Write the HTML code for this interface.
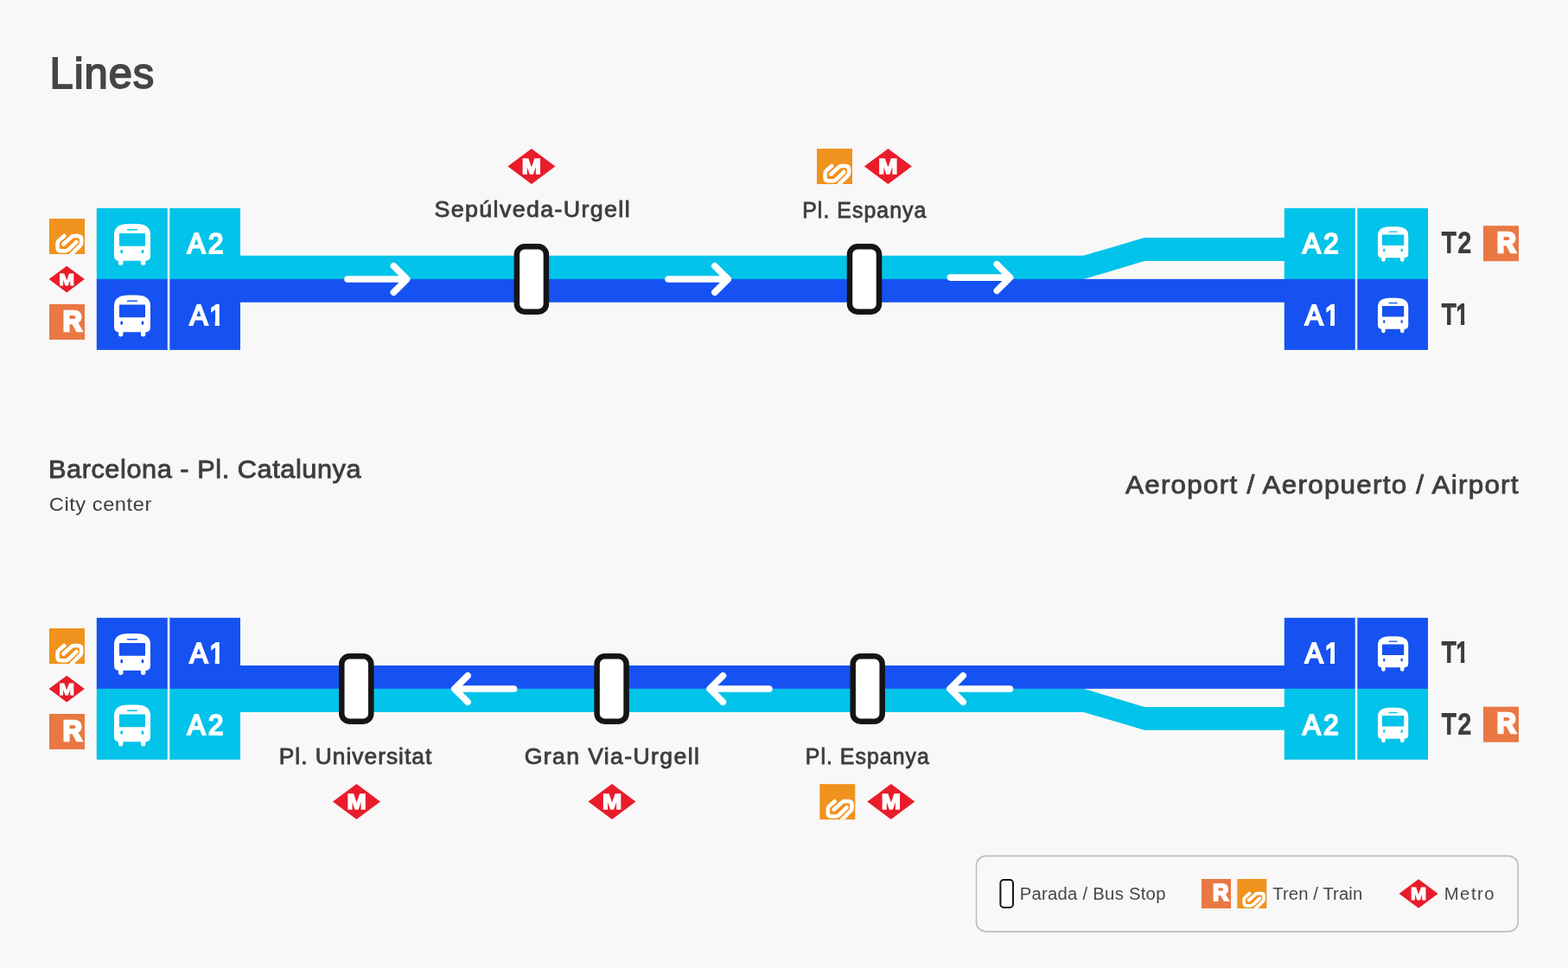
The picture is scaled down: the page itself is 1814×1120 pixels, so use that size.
<!DOCTYPE html>
<html lang="ca"><head><meta charset="utf-8"><title>Lines</title>
<style>html,body{margin:0;padding:0;background:#f8f8f8}body{width:1814px;height:1120px;overflow:hidden;position:relative;font-family:"Liberation Sans", sans-serif}svg{display:block;position:absolute;left:0;top:0;will-change:transform}text{font-family:"Liberation Sans", sans-serif}</style>
</head><body>
<svg width="1814" height="1120" viewBox="0 0 1814 1120">
<rect width="1814" height="1120" fill="#f8f8f8"/>
<text transform="translate(57.5 102.2) scale(0.98 1)" font-size="49.85" letter-spacing="1.002" fill="#454545" stroke="#454545" stroke-width="1.8" stroke-linejoin="miter" paint-order="stroke">Lines</text>
<polygon fill="#02c3e9" points="278,295.8 1253.5,295.8 1324,275 1487,275 1487,301.9 1324,301.9 1253.5,323.1 278,323.1"/>
<rect fill="#1652f2" x="278" y="322.9" width="1209" height="26.9"/>
<rect x="111.8" y="240.8" width="166.2" height="82.3" fill="#02c3e9"/>
<rect x="111.8" y="322.9" width="166.2" height="82" fill="#1652f2"/>
<rect x="1485.8" y="240.8" width="166.2" height="82.3" fill="#02c3e9"/>
<rect x="1485.8" y="322.9" width="166.2" height="82" fill="#1652f2"/>
<rect x="193.8" y="240.8" width="2.5" height="164.1" fill="#fff"/>
<rect x="1567.8" y="240.8" width="2.5" height="164.1" fill="#fff"/>
<g transform="translate(153 282.9) scale(1) translate(-21 -24)">
<path fill="#fff" d="M0 12.5C0 4.2 5.5 0 16.5 0H25.5C36.5 0 42 4.2 42 12.5V37Q42 42.8 36.2 42.8H5.8Q0 42.8 0 37Z"/>
<rect fill="#fff" x="5" y="38" width="5.4" height="10" rx="2.6"/>
<rect fill="#fff" x="31" y="38" width="5.4" height="10" rx="2.6"/>
<rect fill="#02c3e9" x="6" y="11" width="30" height="14.8" rx="0.6"/>
<rect fill="#02c3e9" x="14.8" y="6" width="12.4" height="1.7" rx="0.8"/>
<rect fill="#02c3e9" x="7.4" y="30.2" width="2.6" height="4.2" rx="1"/>
<rect fill="#02c3e9" x="31.7" y="30.2" width="2.6" height="4.2" rx="1"/>
</g>
<g transform="translate(153 365.4) scale(1) translate(-21 -24)">
<path fill="#fff" d="M0 12.5C0 4.2 5.5 0 16.5 0H25.5C36.5 0 42 4.2 42 12.5V37Q42 42.8 36.2 42.8H5.8Q0 42.8 0 37Z"/>
<rect fill="#fff" x="5" y="38" width="5.4" height="10" rx="2.6"/>
<rect fill="#fff" x="31" y="38" width="5.4" height="10" rx="2.6"/>
<rect fill="#1652f2" x="6" y="11" width="30" height="14.8" rx="0.6"/>
<rect fill="#1652f2" x="14.8" y="6" width="12.4" height="1.7" rx="0.8"/>
<rect fill="#1652f2" x="7.4" y="30.2" width="2.6" height="4.2" rx="1"/>
<rect fill="#1652f2" x="31.7" y="30.2" width="2.6" height="4.2" rx="1"/>
</g>
<g transform="translate(1611.6 282.5) scale(0.84) translate(-21 -24)">
<path fill="#fff" d="M0 12.5C0 4.2 5.5 0 16.5 0H25.5C36.5 0 42 4.2 42 12.5V37Q42 42.8 36.2 42.8H5.8Q0 42.8 0 37Z"/>
<rect fill="#fff" x="5" y="38" width="5.4" height="10" rx="2.6"/>
<rect fill="#fff" x="31" y="38" width="5.4" height="10" rx="2.6"/>
<rect fill="#02c3e9" x="6" y="11" width="30" height="14.8" rx="0.6"/>
<rect fill="#02c3e9" x="14.8" y="6" width="12.4" height="1.7" rx="0.8"/>
<rect fill="#02c3e9" x="7.4" y="30.2" width="2.6" height="4.2" rx="1"/>
<rect fill="#02c3e9" x="31.7" y="30.2" width="2.6" height="4.2" rx="1"/>
</g>
<g transform="translate(1611.6 365) scale(0.84) translate(-21 -24)">
<path fill="#fff" d="M0 12.5C0 4.2 5.5 0 16.5 0H25.5C36.5 0 42 4.2 42 12.5V37Q42 42.8 36.2 42.8H5.8Q0 42.8 0 37Z"/>
<rect fill="#fff" x="5" y="38" width="5.4" height="10" rx="2.6"/>
<rect fill="#fff" x="31" y="38" width="5.4" height="10" rx="2.6"/>
<rect fill="#1652f2" x="6" y="11" width="30" height="14.8" rx="0.6"/>
<rect fill="#1652f2" x="14.8" y="6" width="12.4" height="1.7" rx="0.8"/>
<rect fill="#1652f2" x="7.4" y="30.2" width="2.6" height="4.2" rx="1"/>
<rect fill="#1652f2" x="31.7" y="30.2" width="2.6" height="4.2" rx="1"/>
</g>
<text transform="translate(216.8 292.9) scale(0.93 1)" font-size="33.6" letter-spacing="3.6" fill="#fff" stroke="#fff" stroke-width="2.2" stroke-linejoin="miter" paint-order="stroke">A2</text>
<clipPath id="c1"><path d="M-6 -33.6H36.87V10.08H31.41V-5.38H25.32V10.08H-6Z"/></clipPath>
<text transform="translate(219.6 375.5) scale(0.93 1)" font-size="33.6" letter-spacing="1.9" fill="#fff" stroke="#fff" stroke-width="2.2" stroke-linejoin="miter" paint-order="stroke" clip-path="url(#c1)">A1</text>
<text transform="translate(1507 292.9) scale(0.93 1)" font-size="33.6" letter-spacing="3.6" fill="#fff" stroke="#fff" stroke-width="2.2" stroke-linejoin="miter" paint-order="stroke">A2</text>
<clipPath id="c2"><path d="M-6 -33.6H36.87V10.08H31.41V-5.38H25.32V10.08H-6Z"/></clipPath>
<text transform="translate(1509.8 375.5) scale(0.93 1)" font-size="33.6" letter-spacing="1.9" fill="#fff" stroke="#fff" stroke-width="2.2" stroke-linejoin="miter" paint-order="stroke" clip-path="url(#c2)">A1</text>
<text transform="translate(1667.9 292.3) scale(0.83 1)" font-size="32.6" letter-spacing="2.8" fill="#3d3d3d" stroke="#3d3d3d" stroke-width="2.2" stroke-linejoin="miter" paint-order="stroke">T2</text>
<clipPath id="c3"><path d="M-6 -32.6H31.94V9.78H26.57V-5.22H20.7V9.78H-6Z"/></clipPath>
<text transform="translate(1667.9 374.7) scale(0.83 1)" font-size="32.6" letter-spacing="-0.2" fill="#3d3d3d" stroke="#3d3d3d" stroke-width="2.2" stroke-linejoin="miter" paint-order="stroke" clip-path="url(#c3)">T1</text>
<g transform="translate(1716 261.2) scale(1)">
<clipPath id="c4"><rect x="0" y="0" width="41" height="41"/></clipPath>
<rect x="0" y="0" width="41" height="41" fill="#e97843"/>
<g clip-path="url(#c4)">
<text transform="translate(15.8 30.5) scale(0.95 1)" font-size="32.4" font-weight="bold" fill="#fff" stroke="#fff" stroke-width="2.7" stroke-linejoin="miter">R</text>
</g></g>
<g transform="translate(57 253) scale(1)">
<clipPath id="c5"><rect x="0" y="0" width="41" height="41"/></clipPath>
<rect x="0" y="0" width="41" height="41" fill="#f0921e"/>
<g clip-path="url(#c5)" fill="none" stroke="#fff" stroke-width="4.5" stroke-linecap="round" stroke-linejoin="round">
<path d="M17.3 20L11 25.4Q9.5 26.7 9.5 28.6V33.2Q9.5 37.3 13.6 37.3H18.8Q20.6 37.3 21.9 36.1L31.4 27"/>
<path d="M16.4 29.5L26 20.9Q27.3 19.9 29 19.9H33.2Q37.2 19.9 37.2 24V27.8Q37.2 29.6 36 30.8L26 40.8"/>
</g></g>
<g transform="translate(77.2 323) scale(0.75)">
<polygon points="-27.5,0 0,-20.5 27.5,0 0,20.5" fill="#e91c2a"/>
<text x="0" y="9.2" font-size="25.25" font-weight="bold" fill="#fff" stroke="#fff" stroke-width="1.5" stroke-linejoin="miter" text-anchor="middle" textLength="23.75" lengthAdjust="spacingAndGlyphs">M</text>
</g>
<g transform="translate(57 352) scale(1)">
<clipPath id="c6"><rect x="0" y="0" width="41" height="41"/></clipPath>
<rect x="0" y="0" width="41" height="41" fill="#e97843"/>
<g clip-path="url(#c6)">
<text transform="translate(15.8 30.5) scale(0.95 1)" font-size="32.4" font-weight="bold" fill="#fff" stroke="#fff" stroke-width="2.7" stroke-linejoin="miter">R</text>
</g></g>
<rect x="597.9" y="285.3" width="34" height="75.4" rx="9" fill="#fff" stroke="#141414" stroke-width="6.5"/>
<rect x="983" y="285.3" width="34" height="75.4" rx="9" fill="#fff" stroke="#141414" stroke-width="6.5"/>
<path d="M402 323H470.7M455.4 307.7L470.7 323L455.4 338.3" fill="none" stroke="#fff" stroke-width="7.6" stroke-linecap="round" stroke-linejoin="round"/>
<path d="M773 323H842.2M826.9 307.7L842.2 323L826.9 338.3" fill="none" stroke="#fff" stroke-width="7.6" stroke-linecap="round" stroke-linejoin="round"/>
<path d="M1099.4 321.1H1168.6M1153.3 305.8L1168.6 321.1L1153.3 336.4" fill="none" stroke="#fff" stroke-width="7.6" stroke-linecap="round" stroke-linejoin="round"/>
<g transform="translate(614.9 192.4) scale(1)">
<polygon points="-27.5,0 0,-20.5 27.5,0 0,20.5" fill="#e91c2a"/>
<text x="0" y="8.6" font-size="23.6" font-weight="bold" fill="#fff" stroke="#fff" stroke-width="1.5" stroke-linejoin="miter" text-anchor="middle" textLength="22.2" lengthAdjust="spacingAndGlyphs">M</text>
</g>
<text transform="translate(502.5 251.3) scale(1.08 1)" font-size="24.85" letter-spacing="1.251" fill="#3d3d3d" stroke="#3d3d3d" stroke-width="0.8" stroke-linejoin="miter" paint-order="stroke">Sepúlveda-Urgell</text>
<g transform="translate(945 172) scale(1)">
<clipPath id="c7"><rect x="0" y="0" width="41" height="41"/></clipPath>
<rect x="0" y="0" width="41" height="41" fill="#f0921e"/>
<g clip-path="url(#c7)" fill="none" stroke="#fff" stroke-width="4.5" stroke-linecap="round" stroke-linejoin="round">
<path d="M17.3 20L11 25.4Q9.5 26.7 9.5 28.6V33.2Q9.5 37.3 13.6 37.3H18.8Q20.6 37.3 21.9 36.1L31.4 27"/>
<path d="M16.4 29.5L26 20.9Q27.3 19.9 29 19.9H33.2Q37.2 19.9 37.2 24V27.8Q37.2 29.6 36 30.8L26 40.8"/>
</g></g>
<g transform="translate(1027.4 192.4) scale(1)">
<polygon points="-27.5,0 0,-20.5 27.5,0 0,20.5" fill="#e91c2a"/>
<text x="0" y="8.6" font-size="23.6" font-weight="bold" fill="#fff" stroke="#fff" stroke-width="1.5" stroke-linejoin="miter" text-anchor="middle" textLength="22.2" lengthAdjust="spacingAndGlyphs">M</text>
</g>
<text transform="translate(928.25 251.6)" font-size="24.85" letter-spacing="1.05" fill="#3d3d3d" stroke="#3d3d3d" stroke-width="0.8" stroke-linejoin="miter" paint-order="stroke">Pl. Espanya</text>
<text transform="translate(56 552.88) scale(1.07 1)" font-size="28.71" letter-spacing="0.521" fill="#3d3d3d" stroke="#3d3d3d" stroke-width="0.85" stroke-linejoin="miter" paint-order="stroke">Barcelona - Pl. Catalunya</text>
<text transform="translate(56.75 591) scale(1.05 1)" font-size="22.53" letter-spacing="0.523" fill="#3d3d3d">City center</text>
<text transform="translate(1302 571.38) scale(1.08 1)" font-size="29.14" letter-spacing="1.131" fill="#3d3d3d" stroke="#3d3d3d" stroke-width="0.85" stroke-linejoin="miter" paint-order="stroke">Aeroport / Aeropuerto / Airport</text>
<polygon fill="#02c3e9" points="278,824 1253.5,824 1324,844.7 1487,844.7 1487,817.9 1324,817.9 1253.5,796.7 278,796.7"/>
<rect fill="#1652f2" x="278" y="770" width="1209" height="26.9"/>
<rect x="111.8" y="714.8" width="166.2" height="82.3" fill="#1652f2"/>
<rect x="111.8" y="796.9" width="166.2" height="82" fill="#02c3e9"/>
<rect x="1485.8" y="714.8" width="166.2" height="82.3" fill="#1652f2"/>
<rect x="1485.8" y="796.9" width="166.2" height="82" fill="#02c3e9"/>
<rect x="193.8" y="714.8" width="2.5" height="164.1" fill="#fff"/>
<rect x="1567.8" y="714.8" width="2.5" height="164.1" fill="#fff"/>
<g transform="translate(153 756.9) scale(1) translate(-21 -24)">
<path fill="#fff" d="M0 12.5C0 4.2 5.5 0 16.5 0H25.5C36.5 0 42 4.2 42 12.5V37Q42 42.8 36.2 42.8H5.8Q0 42.8 0 37Z"/>
<rect fill="#fff" x="5" y="38" width="5.4" height="10" rx="2.6"/>
<rect fill="#fff" x="31" y="38" width="5.4" height="10" rx="2.6"/>
<rect fill="#1652f2" x="6" y="11" width="30" height="14.8" rx="0.6"/>
<rect fill="#1652f2" x="14.8" y="6" width="12.4" height="1.7" rx="0.8"/>
<rect fill="#1652f2" x="7.4" y="30.2" width="2.6" height="4.2" rx="1"/>
<rect fill="#1652f2" x="31.7" y="30.2" width="2.6" height="4.2" rx="1"/>
</g>
<g transform="translate(153 839.4) scale(1) translate(-21 -24)">
<path fill="#fff" d="M0 12.5C0 4.2 5.5 0 16.5 0H25.5C36.5 0 42 4.2 42 12.5V37Q42 42.8 36.2 42.8H5.8Q0 42.8 0 37Z"/>
<rect fill="#fff" x="5" y="38" width="5.4" height="10" rx="2.6"/>
<rect fill="#fff" x="31" y="38" width="5.4" height="10" rx="2.6"/>
<rect fill="#02c3e9" x="6" y="11" width="30" height="14.8" rx="0.6"/>
<rect fill="#02c3e9" x="14.8" y="6" width="12.4" height="1.7" rx="0.8"/>
<rect fill="#02c3e9" x="7.4" y="30.2" width="2.6" height="4.2" rx="1"/>
<rect fill="#02c3e9" x="31.7" y="30.2" width="2.6" height="4.2" rx="1"/>
</g>
<g transform="translate(1611.6 756.5) scale(0.84) translate(-21 -24)">
<path fill="#fff" d="M0 12.5C0 4.2 5.5 0 16.5 0H25.5C36.5 0 42 4.2 42 12.5V37Q42 42.8 36.2 42.8H5.8Q0 42.8 0 37Z"/>
<rect fill="#fff" x="5" y="38" width="5.4" height="10" rx="2.6"/>
<rect fill="#fff" x="31" y="38" width="5.4" height="10" rx="2.6"/>
<rect fill="#1652f2" x="6" y="11" width="30" height="14.8" rx="0.6"/>
<rect fill="#1652f2" x="14.8" y="6" width="12.4" height="1.7" rx="0.8"/>
<rect fill="#1652f2" x="7.4" y="30.2" width="2.6" height="4.2" rx="1"/>
<rect fill="#1652f2" x="31.7" y="30.2" width="2.6" height="4.2" rx="1"/>
</g>
<g transform="translate(1611.6 839) scale(0.84) translate(-21 -24)">
<path fill="#fff" d="M0 12.5C0 4.2 5.5 0 16.5 0H25.5C36.5 0 42 4.2 42 12.5V37Q42 42.8 36.2 42.8H5.8Q0 42.8 0 37Z"/>
<rect fill="#fff" x="5" y="38" width="5.4" height="10" rx="2.6"/>
<rect fill="#fff" x="31" y="38" width="5.4" height="10" rx="2.6"/>
<rect fill="#02c3e9" x="6" y="11" width="30" height="14.8" rx="0.6"/>
<rect fill="#02c3e9" x="14.8" y="6" width="12.4" height="1.7" rx="0.8"/>
<rect fill="#02c3e9" x="7.4" y="30.2" width="2.6" height="4.2" rx="1"/>
<rect fill="#02c3e9" x="31.7" y="30.2" width="2.6" height="4.2" rx="1"/>
</g>
<clipPath id="c8"><path d="M-6 -33.6H36.87V10.08H31.41V-5.38H25.32V10.08H-6Z"/></clipPath>
<text transform="translate(219.6 766.9) scale(0.93 1)" font-size="33.6" letter-spacing="1.9" fill="#fff" stroke="#fff" stroke-width="2.2" stroke-linejoin="miter" paint-order="stroke" clip-path="url(#c8)">A1</text>
<text transform="translate(216.8 849.5) scale(0.93 1)" font-size="33.6" letter-spacing="3.6" fill="#fff" stroke="#fff" stroke-width="2.2" stroke-linejoin="miter" paint-order="stroke">A2</text>
<clipPath id="c9"><path d="M-6 -33.6H36.87V10.08H31.41V-5.38H25.32V10.08H-6Z"/></clipPath>
<text transform="translate(1509.8 766.9) scale(0.93 1)" font-size="33.6" letter-spacing="1.9" fill="#fff" stroke="#fff" stroke-width="2.2" stroke-linejoin="miter" paint-order="stroke" clip-path="url(#c9)">A1</text>
<text transform="translate(1507 849.5) scale(0.93 1)" font-size="33.6" letter-spacing="3.6" fill="#fff" stroke="#fff" stroke-width="2.2" stroke-linejoin="miter" paint-order="stroke">A2</text>
<clipPath id="c10"><path d="M-6 -32.6H31.94V9.78H26.57V-5.22H20.7V9.78H-6Z"/></clipPath>
<text transform="translate(1667.9 766.3) scale(0.83 1)" font-size="32.6" letter-spacing="-0.2" fill="#3d3d3d" stroke="#3d3d3d" stroke-width="2.2" stroke-linejoin="miter" paint-order="stroke" clip-path="url(#c10)">T1</text>
<text transform="translate(1667.9 848.7) scale(0.83 1)" font-size="32.6" letter-spacing="2.8" fill="#3d3d3d" stroke="#3d3d3d" stroke-width="2.2" stroke-linejoin="miter" paint-order="stroke">T2</text>
<g transform="translate(1716 817.7) scale(1)">
<clipPath id="c11"><rect x="0" y="0" width="41" height="41"/></clipPath>
<rect x="0" y="0" width="41" height="41" fill="#e97843"/>
<g clip-path="url(#c11)">
<text transform="translate(15.8 30.5) scale(0.95 1)" font-size="32.4" font-weight="bold" fill="#fff" stroke="#fff" stroke-width="2.7" stroke-linejoin="miter">R</text>
</g></g>
<g transform="translate(57 727) scale(1)">
<clipPath id="c12"><rect x="0" y="0" width="41" height="41"/></clipPath>
<rect x="0" y="0" width="41" height="41" fill="#f0921e"/>
<g clip-path="url(#c12)" fill="none" stroke="#fff" stroke-width="4.5" stroke-linecap="round" stroke-linejoin="round">
<path d="M17.3 20L11 25.4Q9.5 26.7 9.5 28.6V33.2Q9.5 37.3 13.6 37.3H18.8Q20.6 37.3 21.9 36.1L31.4 27"/>
<path d="M16.4 29.5L26 20.9Q27.3 19.9 29 19.9H33.2Q37.2 19.9 37.2 24V27.8Q37.2 29.6 36 30.8L26 40.8"/>
</g></g>
<g transform="translate(77.2 797) scale(0.75)">
<polygon points="-27.5,0 0,-20.5 27.5,0 0,20.5" fill="#e91c2a"/>
<text x="0" y="9.2" font-size="25.25" font-weight="bold" fill="#fff" stroke="#fff" stroke-width="1.5" stroke-linejoin="miter" text-anchor="middle" textLength="23.75" lengthAdjust="spacingAndGlyphs">M</text>
</g>
<g transform="translate(57 826) scale(1)">
<clipPath id="c13"><rect x="0" y="0" width="41" height="41"/></clipPath>
<rect x="0" y="0" width="41" height="41" fill="#e97843"/>
<g clip-path="url(#c13)">
<text transform="translate(15.8 30.5) scale(0.95 1)" font-size="32.4" font-weight="bold" fill="#fff" stroke="#fff" stroke-width="2.7" stroke-linejoin="miter">R</text>
</g></g>
<rect x="395.3" y="759.3" width="34" height="75.4" rx="9" fill="#fff" stroke="#141414" stroke-width="6.5"/>
<rect x="690.6" y="759.3" width="34" height="75.4" rx="9" fill="#fff" stroke="#141414" stroke-width="6.5"/>
<rect x="986.7" y="759.3" width="34" height="75.4" rx="9" fill="#fff" stroke="#141414" stroke-width="6.5"/>
<path d="M594.6 797H525.8M541.1 781.7L525.8 797L541.1 812.3" fill="none" stroke="#fff" stroke-width="7.6" stroke-linecap="round" stroke-linejoin="round"/>
<path d="M889.9 797H821.1M836.4 781.7L821.1 797L836.4 812.3" fill="none" stroke="#fff" stroke-width="7.6" stroke-linecap="round" stroke-linejoin="round"/>
<path d="M1168.5 797H1098.9M1114.2 781.7L1098.9 797L1114.2 812.3" fill="none" stroke="#fff" stroke-width="7.6" stroke-linecap="round" stroke-linejoin="round"/>
<text transform="translate(322.75 883.8) scale(1.06 1)" font-size="24.85" letter-spacing="0.948" fill="#3d3d3d" stroke="#3d3d3d" stroke-width="0.8" stroke-linejoin="miter" paint-order="stroke">Pl. Universitat</text>
<text transform="translate(606.75 883.8) scale(1.07 1)" font-size="24.85" letter-spacing="1.301" fill="#3d3d3d" stroke="#3d3d3d" stroke-width="0.8" stroke-linejoin="miter" paint-order="stroke">Gran Via-Urgell</text>
<text transform="translate(931.75 883.6)" font-size="24.85" letter-spacing="1.055" fill="#3d3d3d" stroke="#3d3d3d" stroke-width="0.8" stroke-linejoin="miter" paint-order="stroke">Pl. Espanya</text>
<g transform="translate(412.5 927.6) scale(1)">
<polygon points="-27.5,0 0,-20.5 27.5,0 0,20.5" fill="#e91c2a"/>
<text x="0" y="8.6" font-size="23.6" font-weight="bold" fill="#fff" stroke="#fff" stroke-width="1.5" stroke-linejoin="miter" text-anchor="middle" textLength="22.2" lengthAdjust="spacingAndGlyphs">M</text>
</g>
<g transform="translate(708 927.6) scale(1)">
<polygon points="-27.5,0 0,-20.5 27.5,0 0,20.5" fill="#e91c2a"/>
<text x="0" y="8.6" font-size="23.6" font-weight="bold" fill="#fff" stroke="#fff" stroke-width="1.5" stroke-linejoin="miter" text-anchor="middle" textLength="22.2" lengthAdjust="spacingAndGlyphs">M</text>
</g>
<g transform="translate(948.3 907.2) scale(1)">
<clipPath id="c14"><rect x="0" y="0" width="41" height="41"/></clipPath>
<rect x="0" y="0" width="41" height="41" fill="#f0921e"/>
<g clip-path="url(#c14)" fill="none" stroke="#fff" stroke-width="4.5" stroke-linecap="round" stroke-linejoin="round">
<path d="M17.3 20L11 25.4Q9.5 26.7 9.5 28.6V33.2Q9.5 37.3 13.6 37.3H18.8Q20.6 37.3 21.9 36.1L31.4 27"/>
<path d="M16.4 29.5L26 20.9Q27.3 19.9 29 19.9H33.2Q37.2 19.9 37.2 24V27.8Q37.2 29.6 36 30.8L26 40.8"/>
</g></g>
<g transform="translate(1030.8 927.6) scale(1)">
<polygon points="-27.5,0 0,-20.5 27.5,0 0,20.5" fill="#e91c2a"/>
<text x="0" y="8.6" font-size="23.6" font-weight="bold" fill="#fff" stroke="#fff" stroke-width="1.5" stroke-linejoin="miter" text-anchor="middle" textLength="22.2" lengthAdjust="spacingAndGlyphs">M</text>
</g>
<rect x="1129.5" y="990.4" width="626.7" height="87.5" rx="11" fill="none" stroke="#bebebe" stroke-width="1.6"/>
<rect x="1157.4" y="1018.1" width="14.6" height="31.8" rx="3.6" fill="#fdfdfd" stroke="#141414" stroke-width="2"/>
<text transform="translate(1179.65 1040.9)" font-size="20.35" letter-spacing="0.232" fill="#474747">Parada / Bus Stop</text>
<g transform="translate(1390 1017) scale(0.83)">
<clipPath id="c15"><rect x="0" y="0" width="41" height="41"/></clipPath>
<rect x="0" y="0" width="41" height="41" fill="#e97843"/>
<g clip-path="url(#c15)">
<text transform="translate(15.8 30.5) scale(0.95 1)" font-size="32.4" font-weight="bold" fill="#fff" stroke="#fff" stroke-width="2.7" stroke-linejoin="miter">R</text>
</g></g>
<g transform="translate(1431.3 1017) scale(0.83)">
<clipPath id="c16"><rect x="0" y="0" width="41" height="41"/></clipPath>
<rect x="0" y="0" width="41" height="41" fill="#f0921e"/>
<g clip-path="url(#c16)" fill="none" stroke="#fff" stroke-width="4.5" stroke-linecap="round" stroke-linejoin="round">
<path d="M17.3 20L11 25.4Q9.5 26.7 9.5 28.6V33.2Q9.5 37.3 13.6 37.3H18.8Q20.6 37.3 21.9 36.1L31.4 27"/>
<path d="M16.4 29.5L26 20.9Q27.3 19.9 29 19.9H33.2Q37.2 19.9 37.2 24V27.8Q37.2 29.6 36 30.8L26 40.8"/>
</g></g>
<text transform="translate(1472.25 1040.9)" font-size="20.35" letter-spacing="0.066" fill="#474747">Tren / Train</text>
<g transform="translate(1641.1 1034) scale(0.82)">
<polygon points="-27.5,0 0,-20.5 27.5,0 0,20.5" fill="#e91c2a"/>
<text x="0" y="8.6" font-size="23.6" font-weight="bold" fill="#fff" stroke="#fff" stroke-width="1.5" stroke-linejoin="miter" text-anchor="middle" textLength="22.2" lengthAdjust="spacingAndGlyphs">M</text>
</g>
<text transform="translate(1670.65 1040.9)" font-size="20.35" letter-spacing="1.497" fill="#474747">Metro</text>
</svg>
</body></html>
